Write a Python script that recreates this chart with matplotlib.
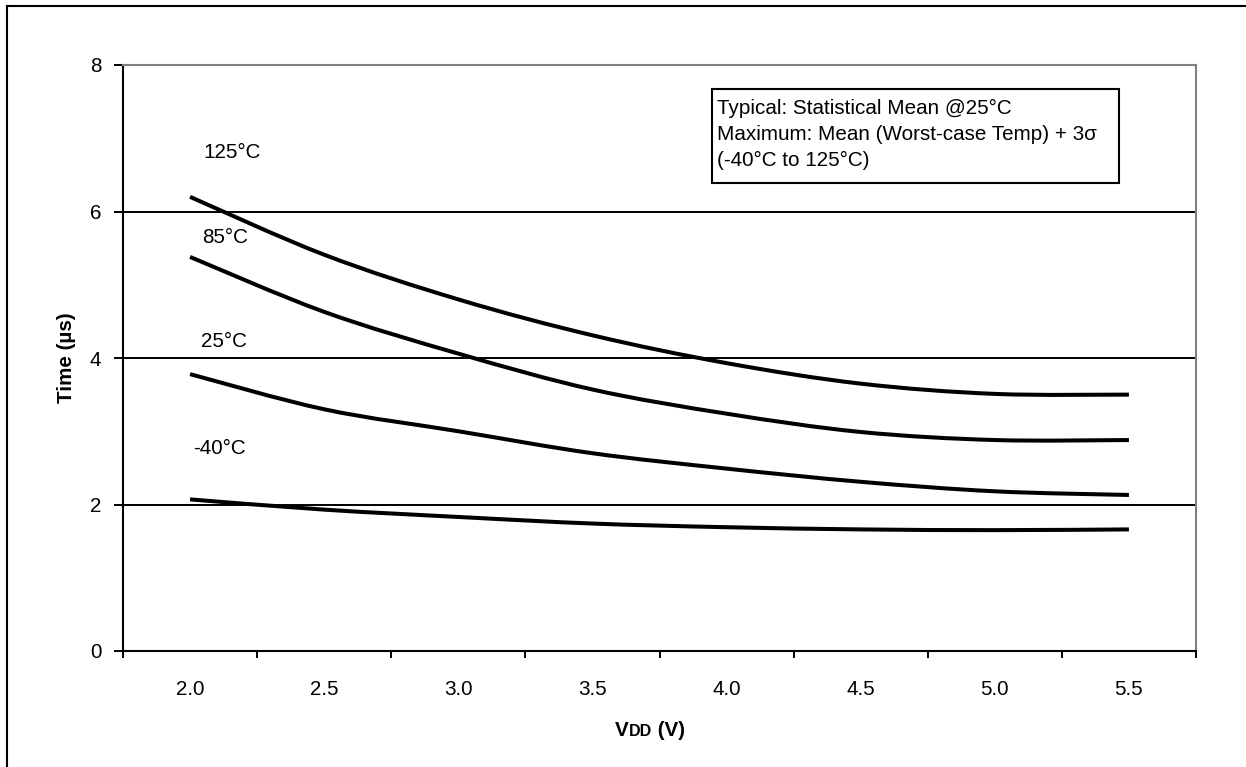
import matplotlib
matplotlib.use("Agg")
import matplotlib.pyplot as plt
from matplotlib.path import Path
from matplotlib.patches import PathPatch, Rectangle
from matplotlib.lines import Line2D
from matplotlib.offsetbox import TextArea, HPacker, AnchoredOffsetbox
import numpy as np

plt.rcParams['font.family'] = ['Liberation Sans', 'DejaVu Sans']

# ---- data ----
vdd_labels = ["2.0", "2.5", "3.0", "3.5", "4.0", "4.5", "5.0", "5.5"]
t_125 = [6.20, 5.41, 4.80, 4.31, 3.93, 3.65, 3.51, 3.50]
t_85 = [5.38, 4.63, 4.06, 3.57, 3.24, 2.99, 2.88, 2.88]
t_25 = [3.78, 3.30, 3.00, 2.70, 2.49, 2.31, 2.18, 2.13]
t_m40 = [2.07, 1.93, 1.83, 1.74, 1.69, 1.66, 1.65, 1.66]
series_names = ["125°C", "85°C", "25°C", "-40°C"]
y_ticks = [0, 2, 4, 6, 8]

FS = 14.9

W, H = 1246, 767
fig = plt.figure(figsize=(W / 100, H / 100), dpi=100)


def fx(px):
    return px / W


def fy(py):
    return 1 - py / H


ax = fig.add_axes([fx(123), fy(651), fx(1196) - fx(123), fy(65) - fy(651)])

n = len(vdd_labels)
xpos = np.arange(n) + 0.5


def smooth_path(xs, ys):
    pts = np.column_stack([xs, ys])
    verts = [pts[0]]
    codes = [Path.MOVETO]
    for i in range(len(pts) - 1):
        p0 = pts[i - 1] if i > 0 else pts[i]
        p1 = pts[i]
        p2 = pts[i + 1]
        p3 = pts[i + 2] if i + 2 < len(pts) else pts[i + 1]
        c1 = p1 + (p2 - p0) / 6.0
        c2 = p2 - (p3 - p1) / 6.0
        verts += [c1, c2, p2]
        codes += [Path.CURVE4] * 3
    return Path(verts, codes)


for ys in [t_125, t_85, t_25, t_m40]:
    patch = PathPatch(smooth_path(xpos, ys), fill=False, edgecolor='black',
                      lw=2.9, capstyle='butt', joinstyle='round', zorder=3)
    ax.add_patch(patch)

ax.set_xlim(0, n)
ax.set_ylim(0, 8)

# gridlines
for yv in [2, 4, 6]:
    ax.axhline(yv, color='black', lw=1.4, zorder=1)

# spines
ax.spines['left'].set_linewidth(1.5)
ax.spines['bottom'].set_linewidth(1.5)
ax.spines['top'].set_color('#808080')
ax.spines['top'].set_linewidth(1.5)
ax.spines['right'].set_color('#808080')
ax.spines['right'].set_linewidth(1.5)

# ticks
ax.set_yticks(y_ticks)
ax.set_yticklabels([str(v) for v in y_ticks])
ax.tick_params(axis='y', direction='out', length=6.5, width=1.4, pad=9,
               labelsize=FS, right=False)
ax.set_xticks(np.arange(n + 1))
ax.set_xticklabels([])
ax.set_xticks(xpos, minor=True)
ax.set_xticklabels(vdd_labels, minor=True)
ax.tick_params(axis='x', which='major', direction='out', length=5, width=1.4)
ax.tick_params(axis='x', which='minor', length=0, pad=21, labelsize=FS)

# series labels
label_pos = [(0.60, 6.80), (0.59, 5.65), (0.58, 4.23), (0.52, 2.77)]
for name, (lx, ly) in zip(series_names, label_pos):
    ax.text(lx, ly, name, fontsize=FS, ha='left', va='center')

# axis titles
fig.text(fx(67), fy(358), "Time (\u00b5s)", rotation=90, ha='center',
         va='center', fontsize=FS, fontweight='bold')
xlab = HPacker(children=[
    TextArea("V", textprops=dict(fontsize=FS, fontweight='bold')),
    TextArea("DD", textprops=dict(fontsize=11.5, fontweight='bold')),
    TextArea(" (V)", textprops=dict(fontsize=FS, fontweight='bold')),
], align='baseline', pad=0, sep=0)
ab = AnchoredOffsetbox(loc='center', child=xlab, pad=0, borderpad=0,
                       frameon=False, bbox_to_anchor=(fx(650), fy(731)),
                       bbox_transform=fig.transFigure)
ab.set_clip_on(False)
ax.add_artist(ab)

# note box
fig.add_artist(Rectangle((fx(712), fy(183)), fx(1119) - fx(712), fy(89) - fy(183),
                         transform=fig.transFigure, fill=False, edgecolor='black', lw=1.5))
notes = ["Typical: Statistical Mean @25°C",
         "Maximum: Mean (Worst-case Temp) + 3\u03c3",
         "(-40°C to 125°C)"]
for i, t in enumerate(notes):
    fig.text(fx(717), fy(108 + 26 * i), t, ha='left', va='center', fontsize=FS)

# figure frame (left and top edges)
fig.add_artist(Line2D([fx(7), fx(7)], [fy(6), 0], transform=fig.transFigure,
                      color='black', lw=1.5))
fig.add_artist(Line2D([fx(7), 1], [fy(6), fy(6)], transform=fig.transFigure,
                      color='black', lw=1.5))

fig.savefig("out.png", dpi=100)
